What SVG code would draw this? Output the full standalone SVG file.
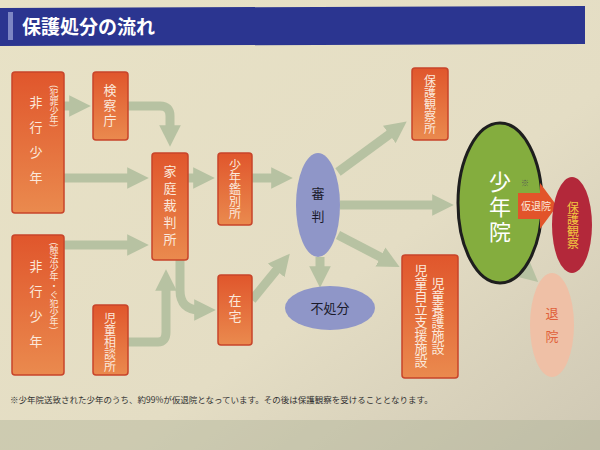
<svg xmlns="http://www.w3.org/2000/svg" width="600" height="450" viewBox="0 0 600 450">
<defs>
<linearGradient id="bg" x1="0" y1="0" x2="1" y2="1"><stop offset="0" stop-color="#e8e2c6"/><stop offset="0.6" stop-color="#e4ddc4"/><stop offset="1" stop-color="#cfc8b4"/></linearGradient>
<linearGradient id="og" x1="0" y1="0" x2="0" y2="1"><stop offset="0" stop-color="#e0562c"/><stop offset="1" stop-color="#ea8a4e"/></linearGradient>
<marker id="ah" viewBox="0 0 10 10" refX="5" refY="5" markerWidth="2.4" markerHeight="2.4" orient="auto" markerUnits="strokeWidth"><path d="M0,0 L10,5 L0,10 z" fill="#b7c2a2"/></marker>
</defs>
<style>
.box{fill:url(#og);stroke:#c8442a;stroke-width:1.5}
.t{font-family:"Noto Sans CJK JP","Noto Sans",sans-serif;fill:#fbe9dc;font-size:13px;text-anchor:middle}
.v{writing-mode:vertical-rl;glyph-orientation-vertical:0}
.c{fill:none;stroke:#b7c2a2;stroke-width:9;marker-end:url(#ah)}
</style>
<rect width="600" height="450" fill="url(#bg)"/>
<rect x="0" y="420" width="600" height="30" fill="#a9b093" opacity="0.4"/>
<g id="header"><path d="M0,8 L585,6 L585,44 L0,46 z" fill="#2b3590"/><rect x="8" y="12" width="5" height="28" fill="#7d86c4"/>
<text x="22" y="34" font-family="Noto Sans CJK JP,sans-serif" font-size="19" font-weight="bold" fill="#fff">保護処分の流れ</text></g>
<g id="connectors">
<path class="c" d="M64,106 H80"/>
<path class="c" d="M128,106 H160 Q170,106 170,116 V136"/>
<path class="c" d="M64,178 H138"/>
<path class="c" d="M64,245 H138"/>
<path class="c" d="M128,342 H158 Q166,342 166,332 V280"/>
<path class="c" d="M188,178 H204"/>
<path class="c" d="M180,260 V290 Q180,310 200,310 H205"/>
<path class="c" d="M252,178 H282"/>
<path class="c" d="M252,300 L283,262"/>
<path class="c" d="M320,257 V277"/>
<path class="c" d="M338,172 L398,128"/>
<path class="c" d="M340,205 H443"/>
<path class="c" d="M338,235 L390,262"/>
<path class="c" d="M515,262 L530,275"/>
</g>
<g id="n1"><rect class="box" x="12" y="72" width="52" height="141" rx="3"/>
<text class="t v" style="font-size:9px" x="54" y="106">(犯罪少年)</text>
<text class="t v" style="letter-spacing:12px" x="36" y="146">非行少年</text></g>
<g id="n2"><rect class="box" x="12" y="235" width="52" height="140" rx="3"/>
<text class="t v" style="font-size:9px" x="54" y="286">(触法少年・ぐ犯少年)</text>
<text class="t v" style="letter-spacing:12px" x="36" y="310">非行少年</text></g>
<g id="n3"><rect class="box" x="93" y="72" width="35" height="68" rx="3"/>
<text class="t v" style="letter-spacing:2px" x="110" y="106">検察庁</text></g>
<g id="n4"><rect class="box" x="93" y="305" width="35" height="70" rx="3"/>
<text class="t v" style="font-size:12px" x="110" y="342">児童相談所</text></g>
<g id="n5"><rect class="box" x="152" y="153" width="36" height="107" rx="3"/>
<text class="t v" style="letter-spacing:4px" x="170" y="207">家庭裁判所</text></g>
<g id="n6"><rect class="box" x="218" y="153" width="34" height="72" rx="3"/>
<text class="t v" style="font-size:12px" x="235" y="189">少年鑑別所</text></g>
<g id="n7"><rect class="box" x="218" y="275" width="34" height="70" rx="3"/>
<text class="t v" style="letter-spacing:3px" x="235" y="310">在宅</text></g>
<g id="n8"><ellipse cx="318" cy="205" rx="22" ry="52" fill="#8f96c8"/>
<text class="t v" style="fill:#1a1a2a;letter-spacing:10px" x="318" y="210">審判</text></g>
<g id="n9"><ellipse cx="330" cy="308" rx="45" ry="22" fill="#8f96c8"/>
<text class="t" style="fill:#1a1a2a" x="330" y="313">不処分</text></g>
<g id="n10"><rect class="box" x="412" y="68" width="36" height="72" rx="3"/>
<text class="t v" style="font-size:12px" x="430" y="104">保護観察所</text></g>
<g id="n11"><rect class="box" x="402" y="255" width="56" height="123" rx="3"/>
<text class="t v" x="438" y="316">児童養護施設</text>
<text class="t v" x="421" y="316">児童自立支援施設</text></g>
<g id="n12"><ellipse cx="500" cy="203" rx="42" ry="80" fill="#84ad3e" stroke="#1e1e1e" stroke-width="3"/>
<text class="t v" style="font-size:22px;fill:#fff;letter-spacing:3px" x="500" y="208">少年院</text></g>
<g id="n13"><path d="M518,193 H540 V183 L557,206 L540,229 V219 H518 z" fill="#e2542a"/>
<text class="t" style="font-size:10px" x="536" y="210">仮退院</text>
<text class="t" style="font-size:8px;fill:#555" x="525" y="186">※</text></g>
<g id="n14"><ellipse cx="572" cy="225" rx="20" ry="48" fill="#b3283a"/>
<text class="t v" style="fill:#f2c640;font-size:12px" x="573" y="225">保護観察</text></g>
<g id="n15"><ellipse cx="552" cy="325" rx="22" ry="52" fill="#efc0a6"/>
<text class="t v" style="fill:#e0603a;letter-spacing:10px" x="552" y="330">退院</text></g>
<text x="10" y="403" font-family="Noto Sans CJK JP,sans-serif" font-size="8.5" fill="#333">※少年院送致された少年のうち、約99%が仮退院となっています。その後は保護観察を受けることとなります。</text>
</svg>
